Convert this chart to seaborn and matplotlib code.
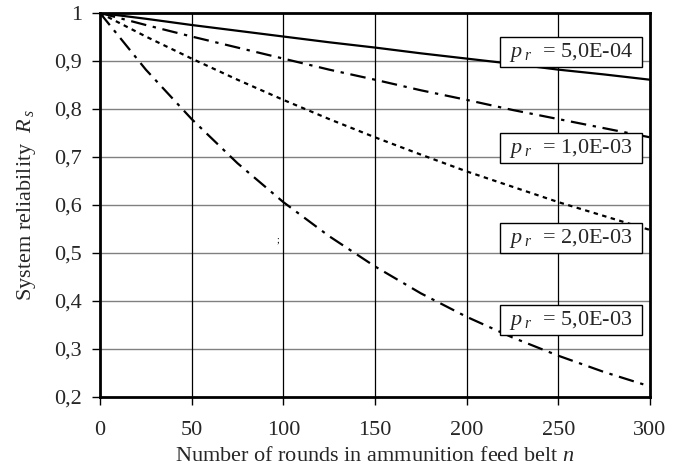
import matplotlib
matplotlib.use("Agg")
import matplotlib.pyplot as plt
import seaborn as sns
import pandas as pd
from matplotlib.patches import Rectangle

# ---- data ----
rounds = [0, 25, 50, 75, 100, 125, 150, 175, 200, 225, 250, 275, 300]
rel_5e4 = [1.000, 0.988, 0.975, 0.963, 0.951, 0.939, 0.928, 0.916, 0.905, 0.894, 0.882, 0.872, 0.861]
rel_1e3 = [1.000, 0.975, 0.951, 0.928, 0.905, 0.882, 0.861, 0.839, 0.819, 0.798, 0.779, 0.760, 0.741]
rel_2e3 = [1.000, 0.951, 0.905, 0.861, 0.819, 0.779, 0.741, 0.705, 0.670, 0.638, 0.606, 0.577, 0.548]
rel_5e3 = [1.000, 0.882, 0.779, 0.687, 0.606, 0.535, 0.472, 0.416, 0.367, 0.324, 0.286, 0.252, 0.222]
series_names = ["5,0E-04", "1,0E-03", "2,0E-03", "5,0E-03"]
x_ticks = [0, 50, 100, 150, 200, 250, 300]
x_tick_labels = ["0", "50", "100", "150", "200", "250", "300"]
y_ticks = [0.2, 0.3, 0.4, 0.5, 0.6, 0.7, 0.8, 0.9, 1.0]
y_tick_labels = ["0,2", "0,3", "0,4", "0,5", "0,6", "0,7", "0,8", "0,9", "1"]

sns.set_theme(style="white")
plt.rcParams["font.family"] = ["Liberation Serif", "DejaVu Serif"]
plt.rcParams["mathtext.fontset"] = "custom"
plt.rcParams["mathtext.rm"] = "Liberation Serif"
plt.rcParams["mathtext.it"] = "Liberation Serif:italic"

frames = []
for name, vals in zip(series_names, [rel_5e4, rel_1e3, rel_2e3, rel_5e3]):
    frames.append(pd.DataFrame({"n": rounds, "R": vals, "p": name}))
df = pd.concat(frames, ignore_index=True)

fig = plt.figure(figsize=(6.83, 4.70), dpi=100)
ax = fig.add_axes([100/683, 1-397/470, 550/683, 384/470])

dash_styles = {
    "5,0E-04": "",
    "1,0E-03": (7, 3, 1.5, 3),
    "2,0E-03": (2, 2),
    "5,0E-03": (7, 3, 1.5, 3),
}
sns.lineplot(data=df, x="n", y="R", style="p", dashes=dash_styles,
             color="black", linewidth=1.6, legend=False, ax=ax, zorder=2)

FS = 16
ax.set_xlim(0, 300)
ax.set_ylim(0.2, 1.0)
ax.set_xticks(x_ticks)
ax.set_xticklabels(x_tick_labels, fontsize=FS)
ax.set_yticks(y_ticks)
ax.set_yticklabels(y_tick_labels, fontsize=FS)
ax.tick_params(axis="both", direction="out", length=6, width=1, color="black",
               bottom=True, left=True)
ax.tick_params(axis="x", pad=11)
ax.tick_params(axis="y", pad=7)

# grid: horizontal gray, vertical black
for yv in y_ticks[1:-1]:
    ax.axhline(yv, color="#808080", linewidth=1.0, zorder=1)
for xv in x_ticks[1:-1]:
    ax.axvline(xv, color="black", linewidth=0.9, zorder=1)

for s in ax.spines.values():
    s.set_color("black")
    s.set_linewidth(2)

ax.set_xlabel("Number of rounds in ammunition feed belt $n$", fontsize=FS, labelpad=5)
ax.set_ylabel("System reliability  $R_{\\,s}$", fontsize=FS, labelpad=12)

# label boxes
box_x0, box_x1 = 218.2, 295.6
box_ys = [(0.8875, 0.95), (0.6875, 0.75), (0.5, 0.5625), (0.329, 0.392)]
for name, (y0, y1) in zip(series_names, box_ys):
    ax.add_patch(Rectangle((box_x0, y0), box_x1 - box_x0, y1 - y0,
                           facecolor="white", edgecolor="black", linewidth=1.0, zorder=3))
    ax.text((box_x0 + box_x1) / 2, (y0 + y1) / 2 - 0.002,
            "$p_{\\;r}$  = " + name, ha="center", va="center",
            fontsize=FS, zorder=4)

ax.text(97, 0.527, ";", fontsize=7, ha="center", va="center", color="black")

fig.savefig("out.png", dpi=100)
